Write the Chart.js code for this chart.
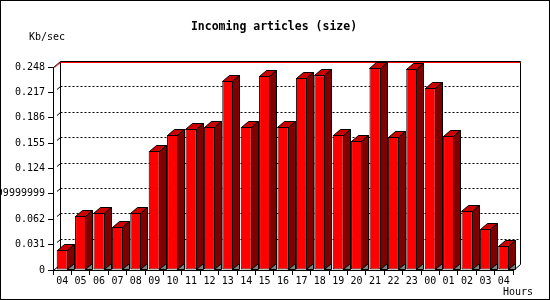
<!DOCTYPE html>
<html><head><meta charset="utf-8">
<script src="https://cdn.jsdelivr.net/npm/chart.js@4/dist/chart.umd.min.js"></script>
<style>html,body{margin:0;padding:0;background:#fff}canvas{display:block}</style>
</head><body>
<canvas id="c" width="550" height="300"></canvas>
<script>
const hours = ["04","05","06","07","08","09","10","11","12","13","14","15","16","17","18","19","20","21","22","23","00","01","02","03","04"];
const kbPerSec = [0.0244,0.0660,0.0696,0.0525,0.0696,0.1454,0.1650,0.1723,0.1747,0.2309,0.1747,0.2370,0.1747,0.2346,0.2380,0.1650,0.1576,0.2468,0.1625,0.2456,0.2224,0.1637,0.0721,0.0501,0.0293];
const yTickValues = [0,0.031,0.062,0.093,0.124,0.155,0.186,0.217,0.248];
const yTickLabels = ["0","0.031","0.062","0.09299999999999999","0.124","0.155","0.186","0.217","0.248"];
const chartTitle = "Incoming articles (size)";
const yUnit = "Kb/sec";
const xUnit = "Hours";

const DX = 7, DY = 6;
const MONO = "'DejaVu Sans Mono', 'Liberation Mono', monospace";

function poly(ctx, pts, fill) {
  ctx.beginPath();
  ctx.moveTo(pts[0][0], pts[0][1]);
  for (let i = 1; i < pts.length; i++) ctx.lineTo(pts[i][0], pts[i][1]);
  ctx.closePath();
  ctx.fillStyle = fill;
  ctx.fill();
  ctx.stroke();
}
function line(ctx, x1, y1, x2, y2, color) {
  ctx.strokeStyle = color;
  ctx.beginPath(); ctx.moveTo(x1, y1); ctx.lineTo(x2, y2); ctx.stroke();
}

const frame3d = {
  id: 'frame3d',
  beforeDraw(chart) {
    const ctx = chart.ctx;
    ctx.save();
    ctx.fillStyle = '#fff';
    ctx.fillRect(0, 0, chart.width, chart.height);
    ctx.restore();
  },
  beforeDatasetsDraw(chart) {
    const { ctx, chartArea: a, scales: { y } } = chart;
    const L = a.left + 0.5, R = a.right + 0.5, T = a.top + 0.5, B = a.bottom + 0.5;
    ctx.save();
    ctx.lineWidth = 1;
    // dotted gridlines on back wall
    ctx.setLineDash([2, 2]);
    yTickValues.slice(1, -1).forEach(v => {
      const py = Math.round(y.getPixelForValue(v)) - DY + 0.5;
      line(ctx, L + DX, py, R + DX, py, '#000');
    });
    ctx.setLineDash([]);
    // small diagonal ticks to back wall
    yTickValues.slice(1, -1).forEach(v => {
      const py = Math.round(y.getPixelForValue(v)) + 0.5;
      line(ctx, L + 3.5, py - 3, L + DX, py - DY, '#000');
    });
    // back wall frame
    line(ctx, L + DX, T - DY, L + DX, B - DY, '#000');
    line(ctx, R + DX, T - DY, R + DX, B - DY, '#000');
    line(ctx, L + DX, T - DY, R + DX, T - DY, '#000');
    line(ctx, L + DX, T - DY + 1, R + DX, T - DY + 1, '#ff0000');
    line(ctx, L, T, L + DX, T - DY, '#000');
    line(ctx, L + 1, T, L + DX, T - DY + 1, '#ff0000');
    line(ctx, R, B, R + DX, B - DY, '#000');
    line(ctx, L, B, L + DX, B - DY, '#000');
    ctx.restore();
  },
  afterDatasetsDraw(chart) {
    const ctx = chart.ctx;
    const meta = chart.getDatasetMeta(0);
    ctx.save();
    ctx.lineWidth = 1;
    ctx.strokeStyle = '#000';
    ctx.lineJoin = 'miter';
    meta.data.forEach(bar => {
      const p = bar.getProps(['x', 'y', 'base', 'width'], true);
      const x0 = Math.round(p.x - p.width / 2) + 0.5;
      const x1 = Math.round(p.x + p.width / 2) - 0.5;
      const yt = Math.round(p.y) + 0.5;
      const yb = Math.round(p.base) - 0.5;
      poly(ctx, [[x0, yt], [x0 + DX, yt - DY], [x1 + DX, yt - DY], [x1, yt]], '#cc0000');
      poly(ctx, [[x1, yt], [x1 + DX, yt - DY], [x1 + DX, yb - DY], [x1, yb]], '#800000');
      poly(ctx, [[x1, yb], [x1 + DX, yb - DY], [x1 + DX, yb]], '#808080');
    });
    ctx.restore();
  },
  afterDraw(chart) {
    const ctx = chart.ctx;
    ctx.save();
    ctx.fillStyle = '#000';
    ctx.textBaseline = 'middle';
    ctx.font = "bold 11.5px " + MONO;
    ctx.textAlign = 'center';
    ctx.fillText(chartTitle, 274, 27);
    ctx.font = "10px " + MONO;
    ctx.textAlign = 'left';
    ctx.fillText(yUnit, 29, 37);
    ctx.textAlign = 'right';
    ctx.fillText(xUnit, 533, 292);
    ctx.strokeStyle = '#000';
    ctx.lineWidth = 1;
    ctx.strokeRect(0.5, 0.5, chart.width - 1, chart.height - 1);
    ctx.restore();
  }
};

new Chart(document.getElementById('c'), {
  type: 'bar',
  data: {
    labels: hours,
    datasets: [{
      data: kbPerSec,
      backgroundColor: '#ff0000',
      borderColor: '#000',
      borderWidth: 1,
      borderSkipped: false,
      barPercentage: 0.6,
      categoryPercentage: 1
    }]
  },
  options: {
    responsive: false,
    animation: false,
    devicePixelRatio: 1,
    layout: { padding: { left: 0, top: 67, right: 37, bottom: 0 } },
    plugins: { legend: { display: false }, title: { display: false }, tooltip: { enabled: false } },
    scales: {
      x: {
        type: 'category',
        offset: true,
        grid: { offset: true, drawOnChartArea: false, tickLength: 5, color: '#000' },
        border: { display: true, color: '#000' },
        ticks: { autoSkip: false, maxRotation: 0, minRotation: 0, padding: 0, color: '#000', font: { family: MONO, size: 10 } },
        afterFit(s) { s.height = 30; }
      },
      y: {
        min: 0,
        max: 0.248,
        afterBuildTicks(s) { s.ticks = yTickValues.map(v => ({ value: v })); },
        grid: { drawOnChartArea: false, tickLength: 5, color: '#000' },
        border: { display: true, color: '#000' },
        ticks: {
          padding: 3, color: '#000', font: { family: MONO, size: 10 },
          callback: (v, i) => yTickLabels[i]
        },
        afterFit(s) { s.width = 53; }
      }
    }
  },
  plugins: [frame3d]
});
</script>
</body></html>
